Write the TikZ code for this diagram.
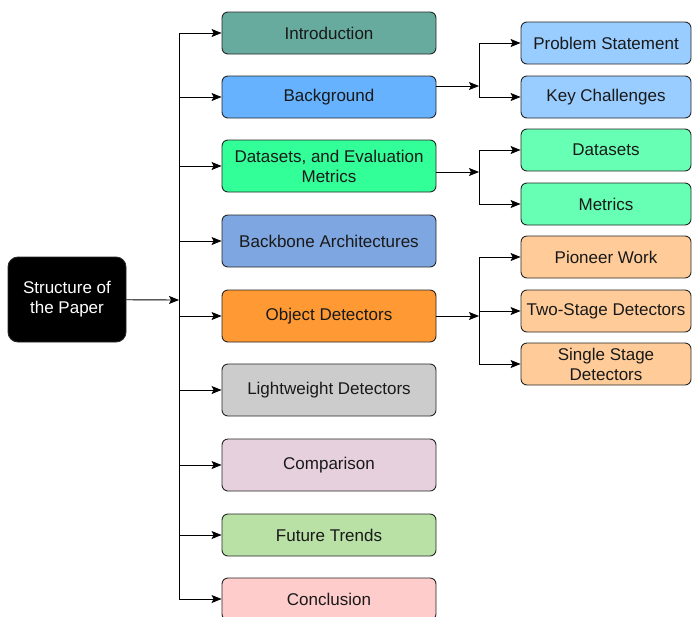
\documentclass[tikz,border=0pt]{standalone}
\usepackage{fontspec}
\setmainfont{Liberation Sans}
\usetikzlibrary{positioning,arrows.meta}

\definecolor{intro}{HTML}{67AB9F}
\definecolor{backgr}{HTML}{66B2FF}
\definecolor{data}{HTML}{33FF99}
\definecolor{backb}{HTML}{7EA6E0}
\definecolor{objdet}{HTML}{FF9933}
\definecolor{light}{HTML}{CCCCCC}
\definecolor{compar}{HTML}{E6D0DE}
\definecolor{future}{HTML}{B9E0A5}
\definecolor{concl}{HTML}{FFCCCC}
\definecolor{subblue}{HTML}{99CCFF}
\definecolor{subgreen}{HTML}{66FFB3}
\definecolor{suborange}{HTML}{FFCC99}

\tikzset{
  box/.style = {draw=black!85, line width=0.9pt, rounded corners=6pt,
                align=center, text=black!90, inner sep=0pt,
                font=\fontsize{17}{20}\selectfont},
  mainbox/.style = {box, minimum width=214pt},
  subbox/.style = {box, minimum width=170pt, minimum height=42pt},
}

\begin{document}
\begin{tikzpicture}
	[x=1pt, y=-1pt, >= {Stealth[length=10pt,width=8pt,inset=2pt]}, line width=0.9pt]
\useasboundingbox (0,0) rectangle (692,616);

\node[box, fill=black, text=white, minimum width=118pt, minimum height=85pt,
      rounded corners=10pt](root) at (67,299.5){Structure of\\the Paper};

\node[mainbox, fill=intro, minimum height=42pt](intro) at (329,33){Introduction};
\node[mainbox, fill=backgr, minimum height=42pt](bg) at (329,97){Background};
\node[mainbox, fill=data, minimum height=52pt](data) at (329,166){Datasets, and Evaluation\\Metrics};
\node[mainbox, fill=backb, minimum height=52pt](backbone) at (329,241){Backbone Architectures};
\node[mainbox, fill=objdet, minimum height=52pt](det) at (329,316){Object Detectors};
\node[mainbox, fill=light, minimum height=52pt](lw) at (329,390){Lightweight Detectors};
\node[mainbox, fill=compar, minimum height=52pt](comp) at (329,465){Comparison};
\node[mainbox, fill=future, minimum height=42pt](fut) at (329,535){Future Trends};
\node[mainbox, fill=concl, minimum height=42pt](con) at (329,599){Conclusion};

\node[subbox, fill=subblue](prob) at (606,43){Problem Statement};
\node[subbox, fill=subblue](chal) at (606,97){Key Challenges};
\node[subbox, fill=subgreen](dsets) at (606,150){Datasets};
\node[subbox, fill=subgreen](metr) at (606,204){Metrics};
\node[subbox, fill=suborange](pion) at (606,257){Pioneer Work};
\node[subbox, fill=suborange](two) at (606,311){Two-Stage Detectors};
\node[subbox, fill=suborange](single) at (606,364){Single Stage\\Detectors};

% main trunk
\coordinate (t) at (179,300);
\draw[->] (root) -- (t);
\draw (t |- intro) -- (t |- con);
\foreach \n in {intro,bg,data,backbone,det,lw,comp,fut,con}
  \draw[->] (t |- \n) -- (\n);

% sub branches
\coordinate (fbg) at (479,86);
\coordinate (fdata) at (479,172);
\coordinate (fdet) at (479,316);
\draw[->] (bg.east |- fbg) -- (fbg);
\draw (fbg |- prob) -- (fbg |- chal);
\draw[->] (fbg |- prob) -- (prob);
\draw[->] (fbg |- chal) -- (chal);

\draw[->] (data.east |- fdata) -- (fdata);
\draw (fdata |- dsets) -- (fdata |- metr);
\draw[->] (fdata |- dsets) -- (dsets);
\draw[->] (fdata |- metr) -- (metr);

\draw[->] (det) -- (fdet);
\draw (fdet |- pion) -- (fdet |- single);
\foreach \n in {pion,two,single}
  \draw[->] (fdet |- \n) -- (\n);

\end{tikzpicture}
\end{document}
